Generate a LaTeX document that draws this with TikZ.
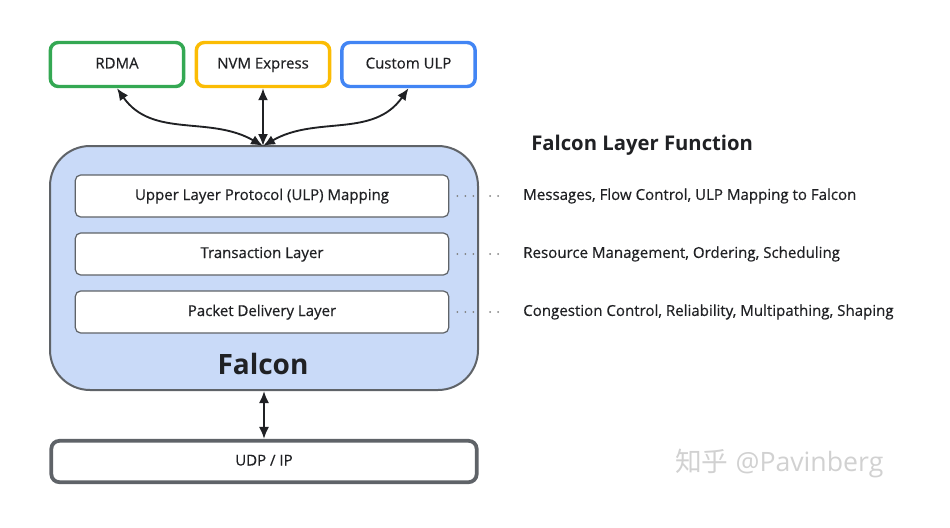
\documentclass[tikz,border=0pt]{standalone}
\usepackage{fontspec}
\setmainfont{Open Sans}
\newfontfamily\med{Open Sans}[FakeBold=0.5]
\newfontfamily\cjk{Noto Sans CJK SC}
\usetikzlibrary{arrows.meta}
\definecolor{gGreen}{HTML}{34A853}
\definecolor{gYellow}{HTML}{FBBC04}
\definecolor{gBlue}{HTML}{4285F4}
\definecolor{falconFill}{HTML}{C9DAF8}
\definecolor{borderGray}{HTML}{5F6368}
\definecolor{textDark}{HTML}{202124}
\begin{document}
\begin{tikzpicture}[x=0.75pt,y=-0.75pt,
  txt/.style={font=\med\fontsize{11.25pt}{13pt}\selectfont, text=textDark},
  topbox/.style={txt, draw, line width=2.6pt, rounded corners=6pt, fill=white,
    minimum width=100pt, minimum height=33pt, inner sep=0pt, text height=8pt, text depth=2pt},
  layerbox/.style={txt, draw=borderGray, line width=0.9pt, rounded corners=4pt, fill=white,
    minimum width=280pt, minimum height=31.5pt, inner sep=0pt, text height=8pt, text depth=2pt},
  funclabel/.style={txt, anchor=west, inner sep=0pt, font=\med\fontsize{11.3pt}{13pt}\selectfont},
  dotline/.style={draw=gray, line width=1.5pt, dash pattern=on 0pt off 6pt, line cap=round},
  biarrow/.style={draw=textDark, line width=1.4pt, {Latex[length=9pt,width=7.5pt]}-{Latex[length=9pt,width=7.5pt]}}
]
\useasboundingbox (0,0) rectangle (950,528);
% top boxes
\node[topbox, draw=gGreen] (rdma) at (117,64.5) {RDMA};
\node[topbox, draw=gYellow] (nvm) at (263,64.5) {NVM Express};
\node[topbox, draw=gBlue] (culp) at (408.5,64.5) {Custom ULP};
% falcon box
\node[draw=borderGray, line width=1.5pt, fill=falconFill, rounded corners=30pt,
  minimum width=321pt, minimum height=183pt, inner sep=0pt] (falcon) at (264,268) {};
\node[font=\fontsize{21pt}{24pt}\selectfont\bfseries, text=textDark] (falconlbl) at (263,364) {Falcon};
% layers
\node[layerbox] (ulp) at (262,196) {Upper Layer Protocol (ULP) Mapping};
\node[layerbox] (trans) at (262,254) {Transaction Layer};
\node[layerbox] (pkt) at (262,312) {Packet Delivery Layer};
% UDP/IP
\node[txt, draw=borderGray, line width=2.8pt, rounded corners=6pt, fill=white,
  minimum width=319pt, minimum height=31pt, inner sep=0pt, text height=8pt, text depth=2pt] (udp) at (264,461.5) {UDP / IP};
% heading and labels
\node[anchor=west, inner sep=0pt, font=\fontsize{15.2pt}{18pt}\selectfont\bfseries, text=textDark] (head) at (531,145.5) {Falcon Layer Function};
\node[funclabel] (f1) at (523,196) {Messages, Flow Control, ULP Mapping to Falcon};
\node[funclabel] (f2) at (523,254) {Resource Management, Ordering, Scheduling};
\node[funclabel] (f3) at (523,312) {Congestion Control, Reliability, Multipathing, Shaping};
% dotted links (inside and outside the Falcon box)
\foreach \L/\F in {ulp/f1, trans/f2, pkt/f3}{
  \draw[dotline] ([xshift=6pt]\L.east) -- ([xshift=-3.75pt]falcon.east |- \L.east);
  \draw[dotline] ([xshift=8.25pt]falcon.east |- \L.east) -- ([xshift=-13.5pt]\F.west);
}
% arrows
\coordinate (hub) at (263,146);
\draw[biarrow] (hub) to[out=150,in=-55] (rdma.south);
\draw[biarrow] (hub) -- (nvm.south);
\draw[biarrow] (hub) to[out=30,in=-125] (culp.south);
\draw[biarrow] (falcon.south) -- (udp.north);
% watermark
\node[anchor=west, inner sep=0pt, text=black!18, font=\fontsize{20pt}{23pt}\selectfont] (wm) at (675,463) {{\cjk 知乎} @Pavinberg};
\end{tikzpicture}
\end{document}
